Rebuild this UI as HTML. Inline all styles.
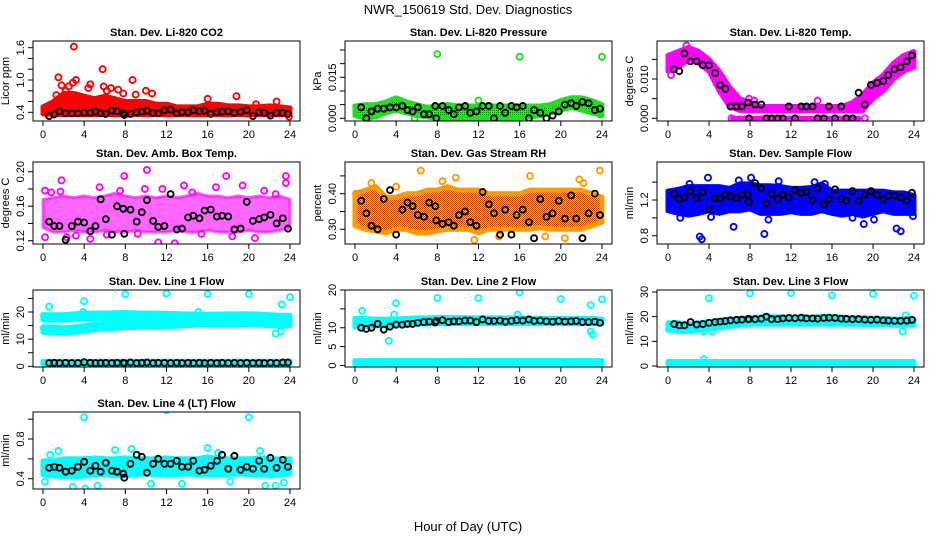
<!DOCTYPE html>
<html><head><meta charset="utf-8"><title>NWR_150619 Std. Dev. Diagnostics</title>
<style>
html,body{margin:0;padding:0;background:#fff;}
svg{display:block;font-family:"Liberation Sans",Arial,sans-serif;}
</style></head>
<body>
<svg id="chart" width="936" height="540" viewBox="0 0 936 540">
<defs>
<pattern id="greenDots" width="2" height="2" patternUnits="userSpaceOnUse"><rect width="2" height="2" fill="#22ee22"/><rect width="1" height="1" fill="#117711"/></pattern>
<pattern id="orangeDots" width="2" height="2" patternUnits="userSpaceOnUse"><rect width="2" height="2" fill="#ffcc00"/><rect width="1" height="1" fill="#ee2200"/><rect x="1" y="1" width="1" height="1" fill="#ee3300"/></pattern>
</defs>
<text x="468" y="14" text-anchor="middle" font-size="13">NWR_150619  Std. Dev. Diagnostics</text>
<text x="468" y="531" text-anchor="middle" font-size="13">Hour of Day (UTC)</text>
</svg>
<script>
// ---- data ----
const H = [0,1,2,3,4,5,6,7,8,9,10,11,12,13,14,15,16,17,18,19,20,21,22,23,24];
const blackT = [0.6,1.1,1.6,2.2,2.8,3.4,4.0,4.6,5.1,5.6,6.1,6.7,7.2,7.8,7.9,8.5,9.1,9.6,10.1,10.7,11.2,11.8,12.4,13.0,13.5,14.1,14.6,15.2,15.7,16.3,16.9,17.4,18.0,18.6,19.2,19.8,20.4,21.0,21.5,22.1,22.7,23.3,23.8];
const xTicks = [0,4,8,12,16,20,24];

// P1 CO2
const p1Lo = [0.37,0.36,0.36,0.36,0.36,0.36,0.36,0.36,0.35,0.36,0.36,0.36,0.36,0.36,0.36,0.36,0.36,0.36,0.36,0.36,0.36,0.36,0.36,0.36,0.36];
const p1Hi = [0.5,0.6,0.75,0.75,0.7,0.65,0.7,0.65,0.6,0.6,0.6,0.55,0.55,0.5,0.5,0.5,0.55,0.55,0.52,0.52,0.5,0.5,0.52,0.5,0.48];
const p1OutT = [3.0,5.8,1.5,3.2,8.7,2.9,4.6,1.8,2.5,5.9,6.6,7.3,10.0,7.8,10.6,9.0,18.8,16.0,22.7,20.7,23.9,1.3,4.4,6.2,2.2];
const p1OutV = [1.62,1.2,1.05,1.0,1.0,0.95,0.92,0.9,0.88,0.88,0.85,0.82,0.8,0.75,0.75,0.73,0.7,0.65,0.6,0.55,0.32,0.72,0.85,0.8,0.8];
const p1Black = [0.33,0.36,0.42,0.38,0.38,0.38,0.39,0.39,0.41,0.38,0.37,0.43,0.42,0.38,0.35,0.37,0.40,0.41,0.43,0.39,0.38,0.44,0.45,0.38,0.40,0.40,0.44,0.42,0.43,0.37,0.40,0.41,0.42,0.39,0.41,0.44,0.33,0.40,0.39,0.34,0.39,0.39,0.37];
const p1Ticks = [0.4,0.6,0.8,1.0,1.2,1.4,1.6];
const p1Labels = ["0.4","","","1.0","","","1.6"];

// P2 Pressure
const p2Lo = [0.001,0.0,0.0005,0.002,0.003,0.002,0.001,0.0005,0,0,0,0,0,0,0,0,0,0.0005,0.001,0.002,0.003,0.004,0.003,0.002,0.001];
const p2Hi = [0.0045,0.005,0.005,0.006,0.0075,0.006,0.005,0.004,0.0045,0.005,0.0045,0.0045,0.0045,0.0045,0.0045,0.0045,0.0045,0.0045,0.0045,0.005,0.0065,0.0075,0.0075,0.0065,0.005];
const p2OutT = [8,16,24,12,1.2,5.8,23.8];
const p2OutV = [0.0235,0.0225,0.0225,0.0065,0.0,0.0,0.0015];
const p2Black = [0.004,0.0000,0.0025,0.0035,0.0035,0.004,0.004,0.0045,0.003,0.0025,0.004,0.0015,0.0015,0.0045,0.0000,0.0045,0.003,0.0015,0.004,0.0045,0.002,0.0025,0.0045,0.0045,0.0000,0.0045,0.002,0.0045,0.004,0.0045,0.0000,0.003,0.002,0.0000,0.001,0.0025,0.005,0.0055,0.0045,0.006,0.0055,0.003,0.0035];
const p2Ticks = [0,0.005,0.01,0.015,0.02,0.025];
const p2Labels = ["0.000","","","0.015","",""];

// P3 Li-820 Temp
const p3Lo = [0.012,0.013,0.015,0.014,0.012,0.007,0.003,0.002,0.002,0.002,0.002,0.002,0.002,0.002,0.002,0.002,0.002,0.002,0.002,0.002,0.005,0.007,0.010,0.012,0.013];
const p3Hi = [0.016,0.017,0.018,0.017,0.015,0.012,0.008,0.005,0.004,0.003,0.003,0.003,0.003,0.003,0.003,0.003,0.003,0.003,0.004,0.006,0.009,0.011,0.014,0.016,0.017];
const p3ZeroT = [6.3,7.0,8.0,9.0,10.0,11.0,12.0,13.0,14.0,15.0,16.0,17.0,18.0,18.6];
const p3ZeroV = [0,0,0,0,0,0,0,0,0,0,0,0,0,0];
const p3OutT = [1.8,6.2,7.9,8.4,14.6,19.2,0.3];
const p3OutV = [0.0185,0.0,0.005,0.0045,0.0045,0.0,0.011];
const p3Black = [0.0125,0.012,0.0165,0.0145,0.0145,0.0135,0.0135,0.0115,0.0085,0.0075,0.003,0.003,0.003,0.004,0.0,0.0035,0.0035,0,0,0,0,0.003,0,0.003,0.003,0.003,0,0,0.003,0,0.003,0,0,0.0065,0.0035,0.0085,0.009,0.0095,0.011,0.0125,0.013,0.0145,0.016];
const p3Ticks = [0,0.005,0.01,0.015];
const p3Labels = ["0.000","","0.010",""];

// P4 Amb Box Temp
const p4Lo = [0.135,0.13,0.13,0.132,0.13,0.13,0.132,0.13,0.13,0.132,0.13,0.13,0.13,0.132,0.13,0.13,0.132,0.13,0.13,0.13,0.132,0.13,0.13,0.132,0.135];
const p4Hi = [0.168,0.17,0.172,0.17,0.172,0.17,0.172,0.175,0.172,0.17,0.172,0.17,0.172,0.17,0.172,0.175,0.172,0.172,0.17,0.172,0.17,0.172,0.17,0.172,0.168];
const p4OutT = [0.2,1.8,7.9,10.1,17.8,23.6,23.6,13.7,0.2,4.6,11.2,12.8,20.6,2.3,0.8,1.7,5.5,7.5,9.9,11.6,14.5,16.8,19.4,21.5,22.6,3.2,6.2,9.2,15.4,18.4];
const p4OutV = [0.178,0.19,0.195,0.202,0.195,0.195,0.187,0.184,0.124,0.122,0.118,0.117,0.123,0.124,0.176,0.177,0.182,0.178,0.18,0.18,0.176,0.182,0.184,0.178,0.174,0.126,0.127,0.128,0.128,0.125];
const p4Black = [0.142,0.137,0.137,0.121,0.137,0.142,0.141,0.131,0.137,0.168,0.145,0.127,0.160,0.157,0.128,0.156,0.142,0.153,0.167,0.143,0.136,0.137,0.174,0.133,0.134,0.147,0.149,0.146,0.155,0.156,0.148,0.149,0.148,0.133,0.134,0.165,0.143,0.145,0.147,0.150,0.140,0.146,0.134];
const p4Ticks = [0.12,0.14,0.16,0.18,0.20];
const p4Labels = ["0.12","","0.16","","0.20"];

// P5 Gas Stream RH
const p5Lo = [0.31,0.30,0.295,0.29,0.30,0.30,0.29,0.29,0.295,0.30,0.30,0.30,0.29,0.30,0.30,0.30,0.30,0.30,0.305,0.30,0.30,0.30,0.30,0.31,0.32];
const p5Hi = [0.40,0.41,0.42,0.39,0.39,0.40,0.40,0.41,0.41,0.42,0.41,0.41,0.41,0.40,0.40,0.40,0.40,0.41,0.41,0.41,0.41,0.41,0.41,0.40,0.39];
const p5OutT = [6.4,23.8,9.8,8.5,21.8,17.0,11.6,18.5,1.6,4.0,22.2,0.1,14.0,20.4];
const p5OutV = [0.465,0.465,0.445,0.435,0.44,0.45,0.27,0.28,0.43,0.42,0.43,0.40,0.28,0.275];
const p5Black = [0.38,0.345,0.31,0.30,0.385,0.41,0.285,0.355,0.375,0.365,0.34,0.335,0.375,0.365,0.325,0.315,0.32,0.31,0.34,0.35,0.32,0.31,0.405,0.37,0.345,0.285,0.355,0.285,0.34,0.355,0.32,0.275,0.385,0.335,0.345,0.38,0.33,0.395,0.33,0.275,0.345,0.40,0.34];
const p5Ticks = [0.30,0.35,0.40,0.45];
const p5Labels = ["0.30","","0.40",""];

// P6 Sample Flow
const p6Lo = [1.08,1.05,1.03,1.05,1.08,1.05,1.08,1.08,1.1,1.05,1.05,1.05,1.07,1.05,1.05,1.08,1.05,1.03,1.05,1.02,1.05,1.08,1.05,1.05,1.05];
const p6Hi = [1.3,1.32,1.35,1.35,1.35,1.35,1.33,1.38,1.38,1.36,1.36,1.35,1.33,1.33,1.34,1.38,1.30,1.30,1.30,1.30,1.30,1.30,1.28,1.28,1.25];
const p6OutT = [3.1,3.3,9.4,6.4,22.3,22.7,19.1,20.1,3.9,8.1,10.8,2.1,15.3,14.3,6.9,1.2,9.8,4.2,18.0,23.9];
const p6OutV = [0.79,0.76,0.82,0.9,0.88,0.85,0.93,0.98,1.45,1.45,1.41,1.38,1.38,1.4,1.42,1.0,0.98,1.01,1.0,1.02];
const p6Black = [1.27,1.21,1.23,1.3,1.22,1.29,1.1,1.22,1.22,1.26,1.24,1.22,1.26,1.26,1.18,1.39,1.33,1.16,1.27,1.21,1.26,1.23,1.31,1.28,1.29,1.20,1.33,1.15,1.21,1.32,1.21,1.19,1.30,1.19,1.26,1.30,1.26,1.21,1.25,1.25,1.23,1.19,1.28];
const p6Ticks = [0.8,1.0,1.2,1.4];
const p6Labels = ["0.8","","1.2",""];

// P7 Line 1 Flow
const p7UpLo = [17,17,17,17.3,17.5,17.6,17.7,17.7,17.8,17.7,17.6,17.6,17.5,17.4,17.2,17.2,17.2,17.2,17.3,17.3,17.3,17.2,17,16.8,16.8];
const p7UpHi = [19,19,19,19.3,19.5,19.6,19.7,19.7,19.8,19.7,19.6,19.6,19.5,19.4,19.2,19.2,19.2,19.2,19.3,19.3,19.3,19.2,19,18.8,18.8];
const p7LowLo = [12.5,12.5,12.2,12.5,13,13.5,13.8,14,14.3,14.3,14.5,14.5,14.7,14.8,15,15.2,15.3,15.3,15.3,15.3,15.2,15.2,15,14.8,15];
const p7LowHi = [14.5,14.5,14.2,14.5,15,15.5,15.8,16,16.3,16.3,16.5,16.5,16.7,16.8,17,17.2,17.3,17.3,17.3,17.3,17.2,17.2,17,16.8,17];
const p7BotLo = [0.8,0.8,0.8,0.8,0.8,0.8,0.8,0.8,0.8,0.8,0.8,0.8,0.8,0.8,0.8,0.8,0.8,0.8,0.8,0.8,0.8,0.8,0.8,0.8,0.8];
const p7BotHi = [1.8,1.8,1.8,1.8,1.8,1.8,1.8,1.8,1.8,1.8,1.8,1.8,1.8,1.8,1.8,1.8,1.8,1.8,1.8,1.8,1.8,1.8,1.8,1.8,1.8];
const p7OutT = [8,12,16,20,24,4,23.2,0.6,22.6,23.1,0.1,0.1,3.9,15.1];
const p7OutV = [26.5,26.8,26.6,26.6,25.5,24,22.8,22,12,13,18.5,14,20,20];
const p7Black = [1.2,1.3,1.2,1.3,1.2,1.2,1.5,1.3,1.2,1.2,1.3,1.2,1.3,1.3,1.2,1.4,1.2,1.3,1.4,1.2,1.3,1.3,1.2,1.3,1.2,1.3,1.2,1.3,1.2,1.3,1.2,1.3,1.2,1.3,1.2,1.3,1.2,1.3,1.2,1.3,1.2,1.4,1.4];
const p7Ticks = [0,5,10,15,20,25];
const p7Labels = ["0","","10","","20",""];

// P8 Line 2 Flow
const p8Lo = [10.2,10.3,10.5,10.5,10.8,11,11,11,11.1,11.1,11.1,11.1,11.1,11.1,11.1,11.1,11.1,11.1,11.1,11.1,11.1,11.1,11.1,11.1,11.1];
const p8Hi = [12.5,12.5,12.3,12.3,12.3,12.5,12.6,12.6,12.7,12.7,12.7,12.6,12.6,12.6,12.6,12.6,12.6,12.5,12.5,12.5,12.5,12.5,12.5,12.5,12.3];
const p8BotLo = [0.3,0.3,0.3,0.3,0.3,0.3,0.3,0.3,0.3,0.3,0.3,0.3,0.3,0.3,0.3,0.3,0.3,0.3,0.3,0.3,0.3,0.3,0.3,0.3,0.3];
const p8BotHi = [1.3,1.3,1.3,1.3,1.3,1.3,1.3,1.3,1.3,1.3,1.3,1.3,1.3,1.3,1.3,1.3,1.3,1.3,1.3,1.3,1.3,1.3,1.3,1.3,1.3];
const p8OutT = [8,12,16,20,24,4,0.7,3.3,22.9,23.1,22.9,3.8,15.8];
const p8OutV = [17.9,17.9,19.3,17.6,17.5,16.5,14.5,6.5,9,8.2,16,13.5,13.5];
const p8Black = [10,9.7,10,11,9.5,10.3,10.8,10.8,11,11,11.3,11.5,11.6,11.4,11.8,12,11.5,11.7,11.7,11.9,11.9,11.5,12.2,11.8,11.8,11.9,11.6,11.8,12,11.9,12.2,11.8,11.9,11.7,11.6,11.8,11.6,11.7,11.8,11.5,11.5,11.6,11.3];
const p8Ticks = [0,5,10,15,20];
const p8Labels = ["0","5","10","","20"];

// P9 Line 3 Flow
const p9Lo = [14.5,14,14,14.5,15,15.5,16,16.5,17,17,17,17,17,17,17,17,17,17,17,16.8,16.8,16.8,16.5,16.5,16.5];
const p9Hi = [17.5,17.5,17,17.5,18,18.5,19,19.2,19.5,19.8,20,19.8,19.8,19.8,19.8,20,20,19.8,19.5,19.5,19.3,19.3,19,19,19];
const p9BotLo = [0.5,0.5,0.5,0.5,0.5,0.5,0.5,0.5,0.5,0.5,0.5,0.5,0.5,0.5,0.5,0.5,0.5,0.5,0.5,0.5,0.5,0.5,0.5,0.5,0.5];
const p9BotHi = [1.8,1.8,1.8,1.8,1.8,1.8,1.8,1.8,1.8,1.8,1.8,1.8,1.8,1.8,1.8,1.8,1.8,1.8,1.8,1.8,1.8,1.8,1.8,1.8,1.8];
const p9OutT = [4,8,12,16,20,24,3.5,22.9,23.2,3.5,4.3];
const p9OutV = [27.5,29.4,29.5,28.6,29.2,28.5,2.8,14,20.5,14,14];
const p9Black = [17,16.5,16.5,17.8,16.8,17,17.5,17.8,18,18.2,18.5,18.7,18.8,19,19,19,19.2,20,19,19,19.3,19.5,19.4,19.6,19.3,19.3,19.2,19.5,19.6,19.5,19.2,19.1,19,19,18.8,18.7,18.8,18.5,18.4,18.3,18.3,18.4,18.7];
const p9Ticks = [0,10,20,30];
const p9Labels = ["0","10","20","30"];

// P10 Line 4 (LT) Flow
const p10Lo = [0.44,0.43,0.42,0.42,0.43,0.44,0.44,0.43,0.43,0.44,0.45,0.44,0.44,0.44,0.45,0.44,0.44,0.44,0.44,0.45,0.44,0.44,0.43,0.44,0.45];
const p10Hi = [0.58,0.58,0.6,0.6,0.6,0.61,0.6,0.6,0.61,0.6,0.6,0.6,0.61,0.6,0.6,0.6,0.62,0.6,0.6,0.6,0.6,0.61,0.6,0.6,0.6];
const p10OutT = [4,12,20,2.9,4.1,0.2,1.5,0.7,7.0,8.6,16.0,17.0,21.1,5.3,10.5,13.5,21.6,22.6,23.4,18.2];
const p10OutV = [1.02,1.09,1.02,0.32,0.3,0.37,0.68,0.64,0.69,0.7,0.71,0.66,0.68,0.33,0.35,0.35,0.33,0.33,0.36,0.37];
const p10Black = [0.51,0.52,0.51,0.47,0.48,0.52,0.57,0.48,0.53,0.47,0.56,0.48,0.47,0.45,0.41,0.55,0.64,0.62,0.46,0.55,0.60,0.55,0.55,0.58,0.52,0.52,0.58,0.48,0.49,0.53,0.58,0.64,0.50,0.63,0.49,0.52,0.50,0.58,0.50,0.61,0.51,0.59,0.52];
const p10Ticks = [0.4,0.6,0.8,1.0];
const p10Labels = ["0.4","","0.8",""];

// ---- layout (not data) ----
const colX = [{l:33,r:300,x0:43,x24:290},{l:345,r:612,x0:355,x24:602},{l:657,r:924,x0:668,x24:914}];
const rowY = [{t:41,b:121},{t:162,b:244},{t:290,b:367},{t:412,b:489}];
const NS = "http://www.w3.org/2000/svg";
const svg = document.getElementById('chart');
function mk(tag, attrs, parent){const e=document.createElementNS(NS,tag);for(const k in attrs)e.setAttribute(k,attrs[k]);(parent||svg).appendChild(e);return e;}

const panels = [
 {name:'co2',title:'Stan. Dev. Li-820 CO2',yl:'Licor ppm',c:0,r:0,v1:0.4,p1:112.3,v2:1.6,p2:47.7,color:'#ff0000',fill:'#ff0000',
  bands:[[p1Lo,p1Hi]],outT:p1OutT,outV:p1OutV,black:p1Black,ticks:p1Ticks,labels:p1Labels},
 {name:'pressure',title:'Stan. Dev. Li-820 Pressure',yl:'kPa',c:1,r:0,v1:0,p1:118.3,v2:0.015,p2:77.3,color:'#22dd22',fill:'url(#greenDots)',
  bands:[[p2Lo,p2Hi]],outT:p2OutT,outV:p2OutV,black:p2Black,ticks:p2Ticks,labels:p2Labels},
 {name:'li820-temp',title:'Stan. Dev. Li-820 Temp.',yl:'degrees C',c:2,r:0,v1:0,p1:118.3,v2:0.010,p2:79,color:'#ff00ff',fill:'#ff00ff',
  bands:[[p3Lo,p3Hi]],extraT:p3ZeroT,extraV:p3ZeroV,outT:p3OutT,outV:p3OutV,black:p3Black,ticks:p3Ticks,labels:p3Labels},
 {name:'amb-box-temp',title:'Stan. Dev. Amb. Box Temp.',yl:'degrees C',c:0,r:1,v1:0.12,p1:240.7,v2:0.20,p2:171.7,color:'#ff00ff',fill:'#ff00ff',
  bands:[[p4Lo,p4Hi]],outT:p4OutT,outV:p4OutV,black:p4Black,ticks:p4Ticks,labels:p4Labels,sparse:true},
 {name:'gas-stream-rh',title:'Stan. Dev. Gas Stream RH',yl:'percent',c:1,r:1,v1:0.30,p1:229.3,v2:0.40,p2:193.7,color:'#ff9900',fill:'url(#orangeDots)',
  bands:[[p5Lo,p5Hi]],outT:p5OutT,outV:p5OutV,black:p5Black,ticks:p5Ticks,labels:p5Labels},
 {name:'sample-flow',title:'Stan. Dev. Sample Flow',yl:'ml/min',c:2,r:1,v1:0.8,p1:235.7,v2:1.2,p2:200,color:'#0000ff',fill:'#0000ff',
  bands:[[p6Lo,p6Hi]],outT:p6OutT,outV:p6OutV,black:p6Black,ticks:p6Ticks,labels:p6Labels},
 {name:'line1-flow',title:'Stan. Dev. Line 1 Flow',yl:'ml/min',c:0,r:2,v1:0,p1:366.3,v2:20,p2:312,color:'#00ffff',fill:'#00ffff',
  bands:[[p7UpLo,p7UpHi],[p7LowLo,p7LowHi],[p7BotLo,p7BotHi]],outT:p7OutT,outV:p7OutV,black:p7Black,ticks:p7Ticks,labels:p7Labels},
 {name:'line2-flow',title:'Stan. Dev. Line 2 Flow',yl:'ml/min',c:1,r:2,v1:0,p1:365.5,v2:20,p2:290,color:'#00ffff',fill:'#00ffff',
  bands:[[p8Lo,p8Hi],[p8BotLo,p8BotHi]],outT:p8OutT,outV:p8OutV,black:p8Black,ticks:p8Ticks,labels:p8Labels},
 {name:'line3-flow',title:'Stan. Dev. Line 3 Flow',yl:'ml/min',c:2,r:2,v1:0,p1:366,v2:30,p2:292,color:'#00ffff',fill:'#00ffff',
  bands:[[p9Lo,p9Hi],[p9BotLo,p9BotHi]],outT:p9OutT,outV:p9OutV,black:p9Black,ticks:p9Ticks,labels:p9Labels},
 {name:'line4-lt-flow',title:'Stan. Dev. Line 4 (LT) Flow',yl:'ml/min',c:0,r:3,v1:0.4,p1:478.7,v2:0.8,p2:439,color:'#00ffff',fill:'#00ffff',
  bands:[[p10Lo,p10Hi]],outT:p10OutT,outV:p10OutV,black:p10Black,ticks:p10Ticks,labels:p10Labels}
];

panels.forEach(p=>{
  const C=colX[p.c], R=rowY[p.r];
  const xs=t=>C.x0+t*(C.x24-C.x0)/24;
  const ys=v=>p.p1+(v-p.v1)*(p.p2-p.p1)/(p.v2-p.v1);
  const g=mk('g',{});
  
  
  const clipId='clip-'+p.name;
  const cp=mk('clipPath',{id:clipId},g); mk('rect',{x:C.l,y:R.t,width:C.r-C.l,height:R.b-R.t},cp);
  const plot=mk('g',{'clip-path':'url(#'+clipId+')'},g);
  p.bands.forEach((b,bi)=>{
    const lo=b[0],hi=b[1];
    let pts=H.map((h,i)=>xs(h)+','+ys(hi[i]));
    pts=pts.concat(H.slice().reverse().map((h,j)=>{const i=H.length-1-j;return xs(h)+','+ys(lo[i]);}));
    const poly=mk('polygon',{points:pts.join(' '),fill:p.fill,stroke:p.color,'stroke-width':p.sparse?3:5,'stroke-linejoin':'round','fill-opacity':p.sparse?0.6:1,'stroke-opacity':p.sparse?0.6:1},plot);
    
    
  });
  const circ=(t,v,col,nm)=>{
    const c=mk('circle',{cx:xs(t),cy:ys(v),r:3,fill:'none',stroke:col,'stroke-width':1.9},plot);
    
    
  };
  if(p.extraT){p.extraT.forEach((t,i)=>{
    const x1=xs(t), x2=xs(i+1<p.extraT.length?p.extraT[i+1]:t);
    const ln=mk('line',{x1:x1,x2:x2,y1:ys(p.extraV[i]),y2:ys(p.extraV[i]),stroke:p.color,'stroke-width':5,'stroke-linecap':'round'},plot);
    
    
  });}
  p.outT.forEach((t,i)=>circ(t,p.outV[i],p.color,p.name+'-point'));
  p.black.forEach((v,i)=>circ(blackT[i],v,'#000',p.name+'-flag-point'));
  const box=mk('rect',{x:C.l,y:R.t,width:C.r-C.l,height:R.b-R.t,fill:'none',stroke:'#000','stroke-width':1},g);
  
  
  mk('line',{x1:xs(0),x2:xs(24),y1:R.b,y2:R.b,stroke:'#000'},g);
  xTicks.forEach(t=>{
    mk('line',{x1:xs(t),x2:xs(t),y1:R.b,y2:R.b+5,stroke:'#000'},g);
    const tx=mk('text',{x:xs(t),y:R.b+17,'text-anchor':'middle','font-size':11},g);
    tx.textContent=t;
    
    
  });
  const yAx=C.l;
  mk('line',{x1:yAx,x2:yAx,y1:ys(p.ticks[0]),y2:ys(p.ticks[p.ticks.length-1]),stroke:'#000'},g);
  p.ticks.forEach((v,i)=>{
    mk('line',{x1:yAx-5,x2:yAx,y1:ys(v),y2:ys(v),stroke:'#000'},g);
    if(p.labels[i]){
      const tx=mk('text',{x:yAx-9,y:ys(v),'text-anchor':'middle','font-size':11,transform:'rotate(-90 '+(yAx-9)+' '+ys(v)+')'},g);
      tx.textContent=p.labels[i];
      
      
    }
  });
  const yl=mk('text',{x:C.l-24,y:(R.t+R.b)/2,'text-anchor':'middle','font-size':11,transform:'rotate(-90 '+(C.l-24)+' '+((R.t+R.b)/2)+')'},g);
  yl.textContent=p.yl;
  
  
  const tt=mk('text',{x:(C.l+C.r)/2,y:R.t-5,'text-anchor':'middle','font-size':11,'font-weight':'bold'},g);
  tt.textContent=p.title;
  
  
});
</script>
</body></html>
